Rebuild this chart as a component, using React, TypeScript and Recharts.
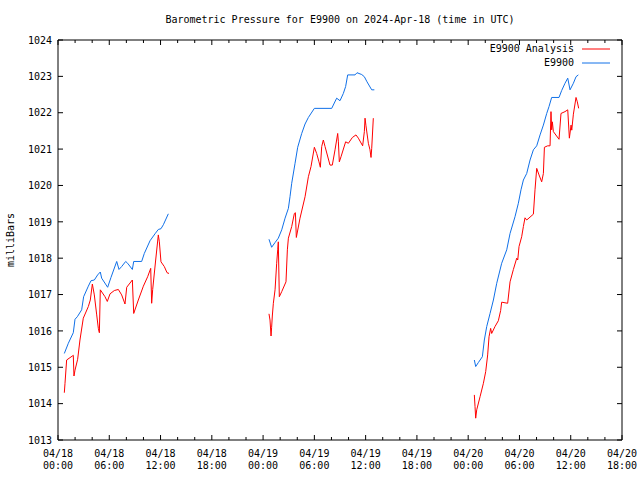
import React from 'react';
import { LineChart, Line, XAxis, YAxis, Legend } from 'recharts';

// hours since 2024-04-18 00:00 UTC, pressure in millibars
const analysisApr18: [number, number][] = [
  [0.74, 1014.3], [0.82, 1014.56], [1.01, 1015.2], [1.68, 1015.31], [1.79, 1015.33], [1.87, 1014.76],
  [1.99, 1014.92], [2.3, 1015.22], [2.57, 1015.75], [2.96, 1016.35], [3.55, 1016.67], [3.78, 1016.85],
  [4.02, 1017.29], [4.25, 1016.99], [4.53, 1016.44], [4.72, 1016.07], [4.84, 1015.95], [4.95, 1017.13],
  [5.5, 1016.94], [5.77, 1016.81], [6.09, 1017.02], [6.59, 1017.11], [7.06, 1017.14], [7.45, 1016.99],
  [7.84, 1016.74], [8.04, 1017.2], [8.7, 1017.4], [8.86, 1016.48], [9.4, 1016.85], [9.99, 1017.23],
  [10.49, 1017.49], [10.85, 1017.72], [10.96, 1016.76], [11.08, 1017.14], [11.43, 1017.95], [11.74, 1018.64],
  [11.86, 1018.45], [12.05, 1017.9], [12.44, 1017.77], [12.76, 1017.6], [12.99, 1017.58],
];
const analysisApr19: [number, number][] = [
  [24.69, 1016.47], [24.81, 1016.3], [24.93, 1015.86], [25.0, 1016.1], [25.08, 1016.41], [25.2, 1016.76],
  [25.4, 1017.13], [25.59, 1017.86], [25.71, 1018.23], [25.78, 1018.45], [25.9, 1016.94], [26.18, 1017.08],
  [26.68, 1017.35], [26.84, 1018.23], [26.96, 1018.55], [27.35, 1018.87], [27.66, 1019.23], [27.78, 1019.25],
  [27.89, 1018.57], [28.32, 1019.1], [28.91, 1019.69], [29.3, 1020.24], [29.61, 1020.52], [30.0, 1021.05],
  [30.27, 1020.88], [30.54, 1020.65], [30.7, 1020.5], [30.86, 1021.07], [31.05, 1021.25], [31.25, 1021.07],
  [31.83, 1020.56], [32.1, 1020.56], [32.42, 1020.98], [32.73, 1021.43], [32.81, 1021.2], [32.92, 1020.65],
  [33.12, 1020.79], [33.66, 1021.2], [33.98, 1021.16], [34.45, 1021.32], [34.87, 1021.39], [35.15, 1021.3],
  [35.65, 1021.09], [35.85, 1021.48], [35.93, 1021.85], [36.04, 1021.64], [36.32, 1021.16], [36.51, 1020.98],
  [36.63, 1020.77], [36.71, 1021.02], [36.9, 1021.85],
];
const analysisApr20: [number, number][] = [
  [48.72, 1014.24], [48.8, 1013.92], [48.88, 1013.6], [49.0, 1013.83], [49.39, 1014.19], [49.78, 1014.56],
  [50.05, 1014.88], [50.28, 1015.34], [50.44, 1015.84], [50.63, 1016.07], [50.75, 1015.93], [51.14, 1016.12],
  [51.53, 1016.28], [51.8, 1016.56], [51.92, 1016.79], [52.62, 1016.76], [52.9, 1017.35], [53.29, 1017.69],
  [53.68, 1018.0], [53.8, 1017.95], [53.95, 1018.32], [54.26, 1018.59], [54.46, 1018.87], [54.65, 1019.11],
  [54.85, 1019.05], [55.63, 1019.21], [55.82, 1019.88], [56.02, 1020.47], [56.29, 1020.29], [56.6, 1020.1],
  [56.8, 1020.33], [56.92, 1021.05], [57.3, 1021.09], [57.58, 1021.09], [57.69, 1022.03], [57.77, 1021.53],
  [57.85, 1021.75], [57.97, 1021.48], [58.63, 1021.27], [58.86, 1021.98], [59.33, 1022.03], [59.65, 1022.08],
  [59.84, 1021.3], [60.04, 1021.66], [60.12, 1021.52], [60.31, 1021.96], [60.62, 1022.42], [60.77, 1022.3],
  [60.93, 1022.12],
];

const stationApr18: [number, number][] = [
  [0.74, 1015.38], [1.21, 1015.66], [1.79, 1015.95], [1.99, 1016.32], [2.26, 1016.39], [2.77, 1016.58],
  [3.0, 1016.94], [3.55, 1017.23], [3.86, 1017.38], [4.25, 1017.4], [4.64, 1017.54], [4.95, 1017.62],
  [5.11, 1017.45], [5.81, 1017.2], [6.2, 1017.47], [6.87, 1017.91], [7.14, 1017.69], [7.45, 1017.77],
  [7.92, 1017.91], [8.15, 1017.86], [8.7, 1017.69], [8.86, 1017.91], [9.79, 1017.91], [10.1, 1018.13],
  [10.77, 1018.48], [11.35, 1018.67], [11.74, 1018.79], [12.05, 1018.81], [12.33, 1018.92], [12.91, 1019.22],
];
const stationApr19: [number, number][] = [
  [24.69, 1018.52], [25.0, 1018.3], [25.4, 1018.43], [25.78, 1018.55], [26.18, 1018.78], [26.57, 1019.1],
  [26.96, 1019.37], [27.15, 1019.69], [27.35, 1020.06], [27.74, 1020.61], [28.05, 1021.05], [28.52, 1021.43],
  [28.91, 1021.69], [29.3, 1021.87], [30.0, 1022.12], [32.03, 1022.12], [32.61, 1022.4], [33.0, 1022.33],
  [33.39, 1022.53], [33.66, 1022.72], [33.9, 1023.04], [34.76, 1023.04], [34.99, 1023.1], [35.54, 1023.05],
  [35.85, 1022.99], [36.16, 1022.85], [36.71, 1022.63], [37.02, 1022.63],
];
const stationApr20: [number, number][] = [
  [48.72, 1015.2], [48.88, 1015.02], [49.19, 1015.13], [49.66, 1015.29], [49.89, 1015.75], [50.17, 1016.12],
  [50.56, 1016.48], [50.95, 1016.85], [51.34, 1017.31], [51.92, 1017.86], [52.51, 1018.23], [52.9, 1018.68],
  [53.48, 1019.14], [53.87, 1019.51], [54.18, 1019.88], [54.46, 1020.15], [54.85, 1020.33], [55.24, 1020.7],
  [55.63, 1020.98], [56.02, 1021.09], [56.41, 1021.39], [56.8, 1021.66], [57.19, 1021.98], [57.46, 1022.17],
  [57.77, 1022.42], [58.63, 1022.42], [58.94, 1022.61], [59.33, 1022.81], [59.65, 1022.95], [59.92, 1022.63],
  [60.31, 1022.81], [60.62, 1022.99], [60.89, 1023.04],
];

const gapHours = [18, 42];
const xTicks = [0, 2, 4, 6, 8, 10, 12, 14, 16, 18, 20, 22, 24, 26, 28, 30, 32, 34, 36, 38, 40, 42, 44, 46, 48, 50, 52, 54, 56, 58, 60, 62, 64, 66];
const xLabelDates = ['04/18', '04/18', '04/18', '04/18', '04/19', '04/19', '04/19', '04/19', '04/20', '04/20', '04/20', '04/20'];
const xLabelTimes = ['00:00', '06:00', '12:00', '18:00', '00:00', '06:00', '12:00', '18:00', '00:00', '06:00', '12:00', '18:00'];
const yTicks = [1013, 1014, 1015, 1016, 1017, 1018, 1019, 1020, 1021, 1022, 1023, 1024];

const seriesNames = ['E9900 Analysis', 'E9900'];
const seriesColors = ['#ff0000', '#1070e8'];

const FONT = '"DejaVu Sans Mono", "Liberation Mono", monospace';

type Row = { h: number; v: number | null };
const toRows = (segs: [number, number][][]): Row[] => {
  const rows: Row[] = [];
  segs.forEach((seg, i) => {
    if (i > 0) rows.push({ h: gapHours[i - 1], v: null });
    seg.forEach(([h, v]) => rows.push({ h, v }));
  });
  return rows;
};

const analysisRows = toRows([analysisApr18, analysisApr19, analysisApr20]);
const stationRows = toRows([stationApr18, stationApr19, stationApr20]);

const MAJOR = 5;
const MINOR = 3;

const BottomTick = (props: any) => {
  const { x, y, payload } = props;
  const h = payload.value as number;
  const major = h % 6 === 0;
  const idx = h / 6;
  return (
    <g>
      <line x1={x} x2={x} y1={y} y2={y - (major ? MAJOR : MINOR)} stroke="#000" strokeWidth={1} />
      {major && (
        <text x={x} y={y + 17} textAnchor="middle" fontFamily={FONT} fontSize={10} fill="#000">
          <tspan x={x}>{xLabelDates[idx]}</tspan>
          <tspan x={x} dy={12}>{xLabelTimes[idx]}</tspan>
        </text>
      )}
    </g>
  );
};

const TopTick = (props: any) => {
  const { x, y, payload } = props;
  const major = (payload.value as number) % 6 === 0;
  return <line x1={x} x2={x} y1={y} y2={y + (major ? MAJOR : MINOR)} stroke="#000" strokeWidth={1} />;
};

const LeftTick = (props: any) => {
  const { x, y, payload } = props;
  return (
    <g>
      <line x1={x} x2={x + MAJOR} y1={y} y2={y} stroke="#000" strokeWidth={1} />
      <text x={x - 6} y={y + 3.7} textAnchor="end" fontFamily={FONT} fontSize={10} fill="#000">
        {payload.value}
      </text>
    </g>
  );
};

const RightTick = (props: any) => {
  const { x, y } = props;
  return <line x1={x} x2={x - MAJOR} y1={y} y2={y} stroke="#000" strokeWidth={1} />;
};

const LegendContent = (props: any) => {
  const payload = [...(props.payload || [])].sort(
    (a: any, b: any) => seriesNames.indexOf(a.value) - seriesNames.indexOf(b.value),
  );
  return (
    <div style={{ fontFamily: FONT, fontSize: 10, color: '#000' }}>
      {payload.map((p: any) => (
        <div key={p.value} style={{ display: 'flex', justifyContent: 'flex-end', alignItems: 'center', height: 13.7 }}>
          <span style={{ whiteSpace: 'pre' }}>{p.value}</span>
          <svg width={36} height={4}>
            <line x1={8} x2={36} y1={2} y2={2} stroke={p.color} strokeWidth={1} />
          </svg>
        </div>
      ))}
    </div>
  );
};

export default function App() {
  return (
    <div style={{ position: 'absolute', left: 0, top: 0, width: 640, height: 480, background: '#fff' }}>
      <div
        style={{
          position: 'absolute', left: 0, top: 13, width: 680, textAlign: 'center',
          fontFamily: FONT, fontSize: 10, lineHeight: '14px', color: '#000', whiteSpace: 'pre',
        }}
      >
        Barometric Pressure for E9900 on 2024-Apr-18 (time in UTC)
      </div>
      <div style={{ position: 'absolute', left: 11, top: 240, width: 0, height: 0 }}>
        <div
          style={{
            position: 'absolute', left: -40, top: -7, width: 80, textAlign: 'center',
            transform: 'rotate(-90deg)', fontFamily: FONT, fontSize: 10, lineHeight: '14px', color: '#000',
          }}
        >
          milliBars
        </div>
      </div>
      <LineChart width={640} height={480} margin={{ top: 39, right: 17, bottom: 0, left: 0 }}>
        <XAxis
          dataKey="h"
          type="number"
          domain={[0, 66]}
          allowDataOverflow
          ticks={xTicks}
          interval={0}
          height={40}
          tickSize={0}
          tickMargin={0}
          tickLine={false}
          axisLine={{ stroke: '#000' }}
          tick={(p: any) => <BottomTick {...p} />}
        />
        <XAxis
          xAxisId="top"
          orientation="top"
          dataKey="h"
          type="number"
          domain={[0, 66]}
          allowDataOverflow
          ticks={xTicks}
          interval={0}
          height={1}
          tickSize={0}
          tickMargin={0}
          tickLine={false}
          axisLine={{ stroke: '#000' }}
          tick={(p: any) => <TopTick {...p} />}
        />
        <YAxis
          type="number"
          domain={[1013, 1024]}
          allowDataOverflow
          ticks={yTicks}
          interval={0}
          width={58}
          tickSize={0}
          tickMargin={0}
          tickLine={false}
          axisLine={{ stroke: '#000' }}
          tick={(p: any) => <LeftTick {...p} />}
        />
        <YAxis
          yAxisId="right"
          orientation="right"
          type="number"
          domain={[1013, 1024]}
          allowDataOverflow
          ticks={yTicks}
          interval={0}
          width={1}
          tickSize={0}
          tickMargin={0}
          tickLine={false}
          axisLine={{ stroke: '#000' }}
          tick={(p: any) => <RightTick {...p} />}
        />
        <Legend
          layout="vertical"
          align="center"
          verticalAlign="middle"
          wrapperStyle={{ position: 'absolute', top: 42, left: 380, width: 230, right: 'auto', bottom: 'auto' }}
          content={(p: any) => <LegendContent {...p} />}
        />
        <Line
          data={analysisRows}
          dataKey="v"
          name={seriesNames[0]}
          stroke={seriesColors[0]}
          strokeWidth={1}
          dot={false}
          activeDot={false}
          type="linear"
          isAnimationActive={false}
        />
        <Line
          data={stationRows}
          xAxisId="top"
          yAxisId="right"
          dataKey="v"
          name={seriesNames[1]}
          stroke={seriesColors[1]}
          strokeWidth={1}
          dot={false}
          activeDot={false}
          type="linear"
          isAnimationActive={false}
        />
      </LineChart>
    </div>
  );
}
